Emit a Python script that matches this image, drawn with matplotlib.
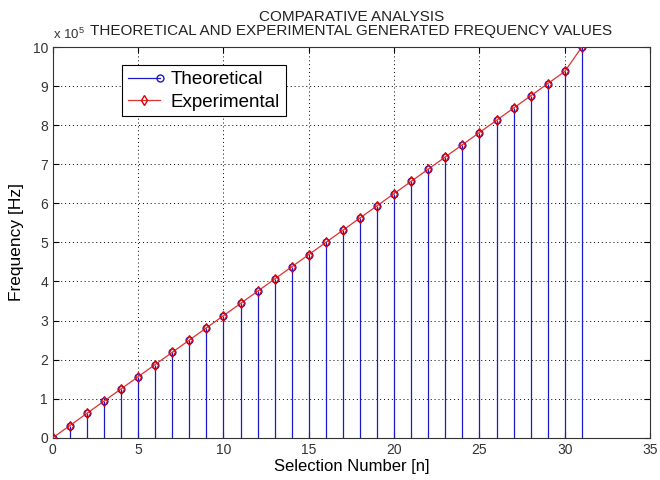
import numpy as np
import matplotlib
matplotlib.use('Agg')
import matplotlib.pyplot as plt
from matplotlib.lines import Line2D
from matplotlib.legend_handler import HandlerLine2D

plt.rcParams['font.family'] = ['Liberation Sans', 'DejaVu Sans']
plt.rcParams['mathtext.fontset'] = 'custom'
plt.rcParams['mathtext.rm'] = 'Liberation Sans'

# Selection number and generated frequencies (Hz)
n = list(range(32))
theoretical = [0, 31250, 62500, 93750, 125000, 156250, 187500, 218750, 250000,
               281250, 312500, 343750, 375000, 406250, 437500, 468750, 500000,
               531250, 562500, 593750, 625000, 656250, 687500, 718750, 750000,
               781250, 812500, 843750, 875000, 906250, 937500, 1000000]
experimental = [0, 31250, 62500, 93750, 125000, 156250, 187500, 218750, 250000,
                281250, 312500, 343750, 375000, 406250, 437500, 468750, 500000,
                531250, 562500, 593750, 625000, 656250, 687500, 718750, 750000,
                781250, 812500, 843750, 875000, 906250, 937500, 1000000]

scale = 1e5
x_ticks = [0, 5, 10, 15, 20, 25, 30, 35]
y_ticks = list(range(11))

blue = '#1a1acc'
red = '#e03030'


# legend handle with the marker at the right end of the line (stem style)
class EndMarkerHandler(HandlerLine2D):
    def create_artists(self, legend, orig_handle, xdescent, ydescent,
                       width, height, fontsize, trans):
        artists = super().create_artists(legend, orig_handle, xdescent, ydescent,
                                         width, height, fontsize, trans)
        for a in artists:
            if a.get_markevery() is not None:
                a.set_markevery([2])
        return artists


fig = plt.figure(figsize=(6.6, 4.8), dpi=100)
ax = fig.add_axes([0.080, 0.088, 0.905, 0.814])

theo = np.array(theoretical) / scale
expe = np.array(experimental) / scale

# theoretical values as stems
ax.vlines(n, 0, theo, colors=blue, linewidth=0.9, zorder=2)
ax.plot(n, theo, 'o', mfc='none', mec=blue, ms=5, mew=0.9, zorder=3)

# experimental values as a line
ax.plot(n, expe, '-', color=red, linewidth=0.9, zorder=4)
ax.plot(n, expe, 'd', mfc='none', mec='#e00000', ms=5, mew=0.9, zorder=4)

ax.set_xlim(0, 35)
ax.set_ylim(0, 10)
ax.set_xticks(x_ticks)
ax.set_yticks(y_ticks)
ax.tick_params(direction='in', top=True, right=True, length=4, labelsize=10,
               labelcolor='#333333', width=0.8)
ax.grid(True, linestyle=(0, (1, 3)), color='black', linewidth=0.7)
for s in ax.spines.values():
    s.set_linewidth(0.8)
    s.set_color('#333333')

ax.set_xlabel('Selection Number [n]', fontsize=12, labelpad=2)
ax.set_ylabel('Frequency [Hz]', fontsize=12.5, labelpad=6)
ax.set_title('COMPARATIVE ANALYSIS\nTHEORETICAL AND EXPERIMENTAL GENERATED FREQUENCY VALUES',
             fontsize=11, pad=9, linespacing=1.0, color='#222222')
ax.text(0.0, 1.012, r'x 10$^{\mathrm{5}}$', transform=ax.transAxes, fontsize=9.5,
        ha='left', va='bottom', color='#333333')

h_theo = Line2D([], [], color=blue, marker='o', mfc='none', ms=5, linewidth=0.9)
h_expe = Line2D([], [], color=red, marker='d', mfc='none', mec='#e00000', ms=5, linewidth=0.9)
leg = ax.legend([h_theo, h_expe], ['Theoretical', 'Experimental'], loc='upper left',
                bbox_to_anchor=(0.116, 0.953), fontsize=13.5, fancybox=False,
                framealpha=1, edgecolor='black', handlelength=1.7,
                borderpad=0.3, labelspacing=0.28, handletextpad=0.6,
                borderaxespad=0, handler_map={h_theo: EndMarkerHandler()})
leg.get_frame().set_linewidth(0.8)

fig.savefig('out.png', dpi=100)
